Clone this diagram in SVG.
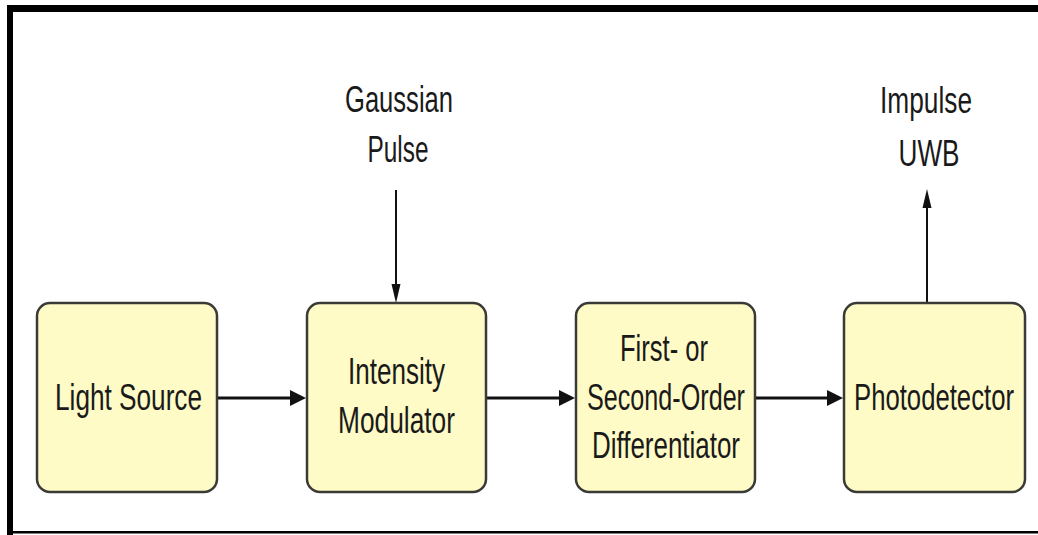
<svg xmlns="http://www.w3.org/2000/svg" width="1038" height="535" viewBox="0 0 1038 535">
<style>
.box{fill:#FEFBC6;stroke:#3a3a36;stroke-width:2.5}
.t{font-family:"Liberation Sans",Arial,sans-serif;font-size:37px;fill:#1a1a1a;text-anchor:middle}
.h{stroke:#111;stroke-width:3;fill:none}
.v{stroke:#111;stroke-width:2;fill:none}
.ah{fill:#111}
</style>
<rect x="0" y="0" width="1038" height="535" fill="#fff"/>
<g id="frame">
<rect x="7" y="5" width="1031" height="7" fill="#000"/>
<rect x="7" y="5" width="6" height="530" fill="#000"/>
<rect x="7" y="531" width="1031" height="2.5" fill="#000"/>
</g>
<g id="connectors">
<line class="h" x1="217" y1="398" x2="292" y2="398"/>
<polygon class="ah" points="306,398 290,390 290,406"/>
<line class="h" x1="486" y1="398" x2="561" y2="398"/>
<polygon class="ah" points="575,398 559,390 559,406"/>
<line class="h" x1="755" y1="398" x2="829" y2="398"/>
<polygon class="ah" points="843,398 827,390 827,406"/>
<line class="v" x1="396" y1="190" x2="396" y2="286"/>
<polygon class="ah" points="396,303 391.5,284 400.5,284"/>
<line class="v" x1="927" y1="303" x2="927" y2="206"/>
<polygon class="ah" points="927,189 922.5,208 931.5,208"/>
</g>
<g id="gaussian-label">
<text class="t" x="399" y="112" textLength="108" lengthAdjust="spacingAndGlyphs">Gaussian</text>
<text class="t" x="398" y="162" textLength="61" lengthAdjust="spacingAndGlyphs">Pulse</text>
</g>
<g id="impulse-label">
<text class="t" x="926" y="113" textLength="92" lengthAdjust="spacingAndGlyphs">Impulse</text>
<text class="t" x="929" y="166" textLength="61" lengthAdjust="spacingAndGlyphs">UWB</text>
</g>
<g id="light-source">
<rect class="box" x="37" y="303" width="180" height="189" rx="13" ry="13"/>
<text class="t" x="128.5" y="410" textLength="147" lengthAdjust="spacingAndGlyphs">Light Source</text>
</g>
<g id="intensity-modulator">
<rect class="box" x="307" y="303" width="179" height="189" rx="13" ry="13"/>
<text class="t" x="396.5" y="384" textLength="97" lengthAdjust="spacingAndGlyphs">Intensity</text>
<text class="t" x="396.5" y="433" textLength="117" lengthAdjust="spacingAndGlyphs">Modulator</text>
</g>
<g id="differentiator">
<rect class="box" x="576" y="303" width="179" height="189" rx="13" ry="13"/>
<text class="t" x="664" y="361" textLength="88" lengthAdjust="spacingAndGlyphs">First- or</text>
<text class="t" x="666" y="410" textLength="158" lengthAdjust="spacingAndGlyphs">Second-Order</text>
<text class="t" x="666" y="458" textLength="148" lengthAdjust="spacingAndGlyphs">Differentiator</text>
</g>
<g id="photodetector">
<rect class="box" x="844" y="303" width="181" height="189" rx="13" ry="13"/>
<text class="t" x="934" y="410" textLength="160" lengthAdjust="spacingAndGlyphs">Photodetector</text>
</g>
</svg>
